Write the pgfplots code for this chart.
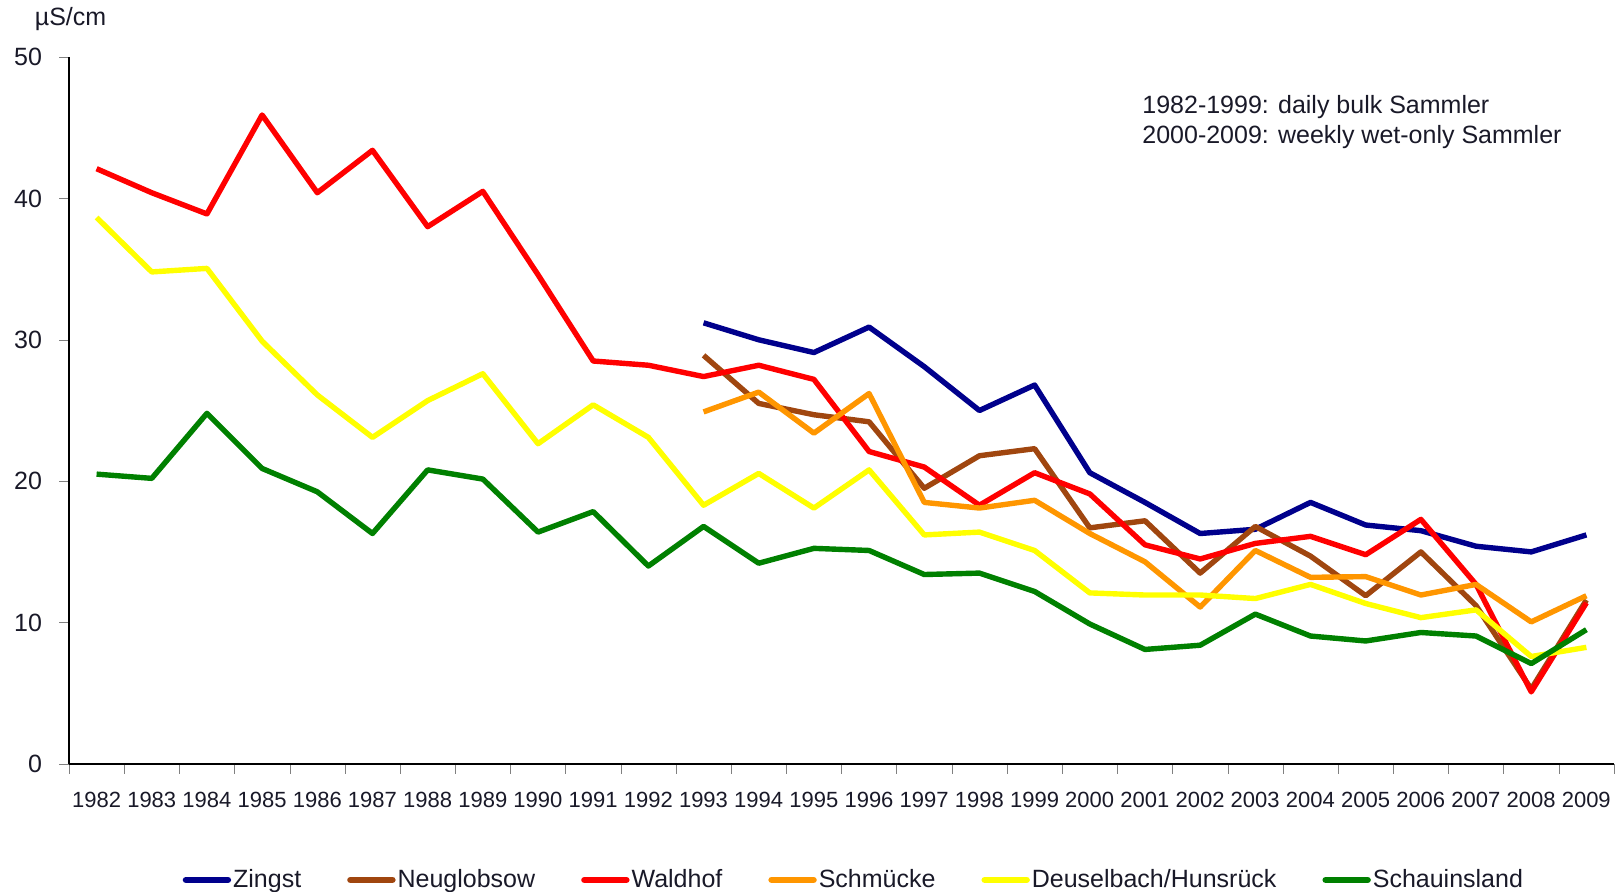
\documentclass[border=0pt]{standalone}
\usepackage{pgfplots}
\pgfplotsset{compat=1.18}
\usepackage{fontspec}
\setmainfont{Liberation Sans}
\definecolor{cZingst}{RGB}{0,0,140}
\definecolor{cNeu}{RGB}{160,70,15}
\definecolor{cWald}{RGB}{255,0,0}
\definecolor{cSchm}{RGB}{255,150,0}
\definecolor{cDeus}{RGB}{255,255,0}
\definecolor{cSchau}{RGB}{0,128,0}
\definecolor{txt}{RGB}{25,25,40}
\begin{document}
\begin{tikzpicture}
\useasboundingbox (-34.5pt,-64pt) rectangle (775pt,382pt);
\begin{axis}[
  at={(0pt,0pt)}, anchor=south west,
  scale only axis, width=772.5pt, height=353.5pt,
  xmin=1981.5, xmax=2009.5, ymin=0, ymax=50,
  axis lines=left, axis line style={-, line width=0.8pt},
  tick align=outside,
  xtick={1982,...,2009},
  minor xtick={1981.5,1982.5,...,2009.5},
  major x tick style={draw=none},
  minor tick length=5pt, major tick length=5pt,
  ytick={0,10,...,50},
  /pgf/number format/.cd, 1000 sep={}, assume math mode=true, /pgfplots/.cd,
  xticklabel style={font=\fontsize{11}{13}\selectfont, text=txt, yshift=-5.4pt},
  yticklabel style={font=\fontsize{12.5}{14}\selectfont, text=txt, xshift=-5pt},
  legend columns=6,
  legend style={at={(0.508,-0.164)}, anchor=center, draw=none, fill=none,
    font=\fontsize{12.5}{14}\selectfont, text=txt,
    nodes={inner xsep=1pt},
    /tikz/every even column/.append style={column sep=22pt},
    /tikz/every odd column/.append style={column sep=0pt}},
  legend image code/.code={\draw[#1, line width=3.2pt, line cap=round] (1.5pt,0pt) -- (22.5pt,0pt);},
  every axis plot/.append style={line width=2.7pt, line join=round, no markers},
  clip=false,
]
\addplot[cZingst] coordinates {
(1993,31.2)(1994,30.0)(1995,29.1)(1996,30.9)(1997,28.1)(1998,25.0)(1999,26.8)
(2000,20.6)(2001,18.5)(2002,16.3)(2003,16.6)(2004,18.5)(2005,16.9)(2006,16.5)
(2007,15.4)(2008,15.0)(2009,16.2)};
\addlegendentry{Zingst}
\addplot[cNeu] coordinates {
(1993,28.9)(1994,25.5)(1995,24.7)(1996,24.2)(1997,19.5)(1998,21.8)(1999,22.3)
(2000,16.7)(2001,17.2)(2002,13.5)(2003,16.8)(2004,14.7)(2005,11.9)(2006,15.0)
(2007,11.2)(2008,5.3)(2009,11.6)};
\addlegendentry{Neuglobsow}
\addplot[cWald] coordinates {
(1982,42.1)(1983,40.4)(1984,38.9)(1985,45.9)(1986,40.4)(1987,43.4)(1988,38.0)
(1989,40.5)(1990,34.6)(1991,28.5)(1992,28.2)(1993,27.4)(1994,28.2)(1995,27.2)
(1996,22.1)(1997,21.0)(1998,18.3)(1999,20.6)(2000,19.1)(2001,15.5)(2002,14.5)
(2003,15.6)(2004,16.1)(2005,14.8)(2006,17.3)(2007,12.7)(2008,5.1)(2009,11.4)};
\addlegendentry{Waldhof}
\addplot[cSchm] coordinates {
(1993,24.9)(1994,26.3)(1995,23.4)(1996,26.2)(1997,18.5)(1998,18.1)(1999,18.65)
(2000,16.3)(2001,14.3)(2002,11.1)(2003,15.1)(2004,13.2)(2005,13.25)(2006,11.95)
(2007,12.7)(2008,10.05)(2009,11.9)};
\addlegendentry{Schmücke}
\addplot[cDeus] coordinates {
(1982,38.65)(1983,34.8)(1984,35.05)(1985,29.9)(1986,26.1)(1987,23.1)(1988,25.7)
(1989,27.6)(1990,22.65)(1991,25.4)(1992,23.1)(1993,18.3)(1994,20.55)(1995,18.1)
(1996,20.8)(1997,16.2)(1998,16.4)(1999,15.1)(2000,12.1)(2001,11.95)(2002,11.95)
(2003,11.7)(2004,12.7)(2005,11.35)(2006,10.35)(2007,10.9)(2008,7.6)(2009,8.25)};
\addlegendentry{Deuselbach/Hunsrück}
\addplot[cSchau] coordinates {
(1982,20.5)(1983,20.2)(1984,24.8)(1985,20.9)(1986,19.25)(1987,16.3)(1988,20.8)
(1989,20.15)(1990,16.4)(1991,17.85)(1992,14.0)(1993,16.8)(1994,14.2)(1995,15.25)
(1996,15.1)(1997,13.4)(1998,13.5)(1999,12.2)(2000,9.9)(2001,8.1)(2002,8.4)
(2003,10.6)(2004,9.05)(2005,8.7)(2006,9.3)(2007,9.05)(2008,7.1)(2009,9.5)};
\addlegendentry{Schauinsland}
\node[anchor=base west, font=\fontsize{12.5}{14}\selectfont, text=txt, inner sep=0pt] at (rel axis cs:0.6945,0.9206) {1982-1999: daily bulk Sammler};
\node[anchor=base west, font=\fontsize{12.5}{14}\selectfont, text=txt, inner sep=0pt] at (rel axis cs:0.6945,0.8782) {2000-2009: weekly wet-only Sammler};
\node[font=\fontsize{12.5}{14}\selectfont, text=txt] at (rel axis cs:0.001,1.054) {µS/cm};
\end{axis}
\end{tikzpicture}
\end{document}
